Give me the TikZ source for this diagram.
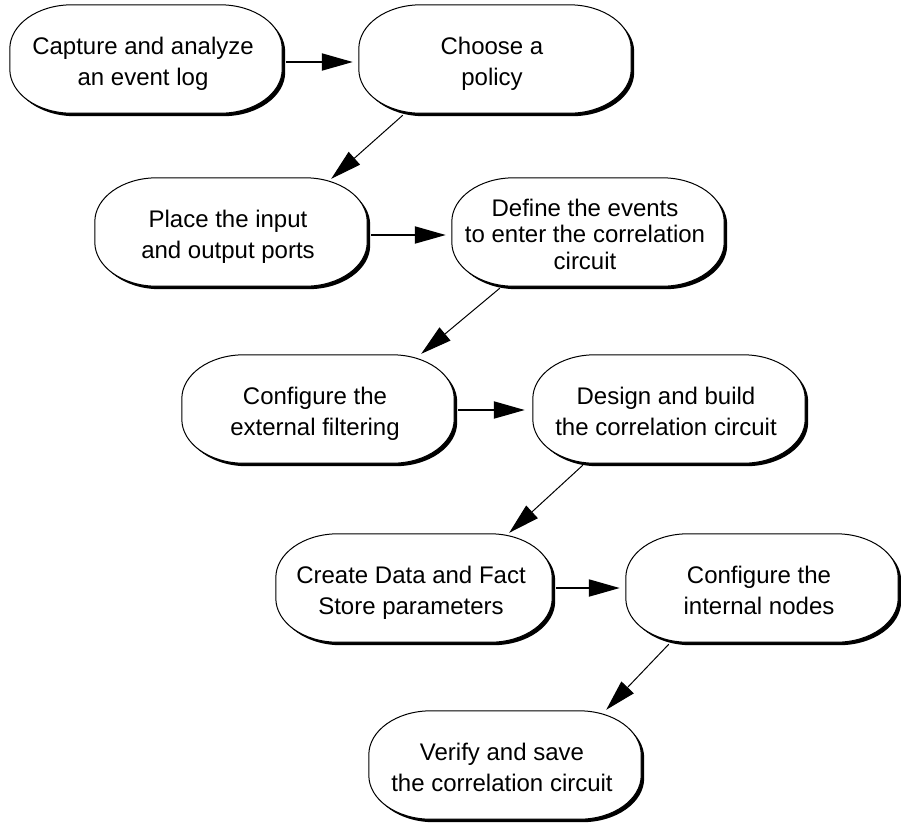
\documentclass[tikz,border=0pt]{standalone}
\usepackage{fontspec}
\setmainfont{Liberation Sans}
\usetikzlibrary{arrows.meta}

% Outline of a step box: a rectangle with elliptical corners, built on the anchors of node #1
\newcommand\pilloutline[1]{%
  ([xshift=62pt]#1.north west) -- ([xshift=-62pt]#1.north east)
  arc[start angle=90,end angle=0,x radius=62pt,y radius=44pt]
  -- ([yshift=44pt]#1.south east)
  arc[start angle=0,end angle=-90,x radius=62pt,y radius=44pt]
  -- ([xshift=62pt]#1.south west)
  arc[start angle=270,end angle=180,x radius=62pt,y radius=44pt]
  -- ([yshift=-44pt]#1.north west)
  arc[start angle=180,end angle=90,x radius=62pt,y radius=44pt] -- cycle}

\begin{document}
\begin{tikzpicture}[x=1pt,y=1pt,
  stepbox/.style={minimum width=272pt, minimum height=108pt, inner sep=0pt},
  steptext/.style={inner sep=0pt, align=center,
    font=\fontsize{24}{30.5}\selectfont,
    execute at begin node=\strut, execute at end node=\strut},
  boxshadow/.style={fill=black, transform canvas={shift={(3pt,-3pt)}}},
  boxface/.style={draw=black, fill=white, line width=1pt},
  flow/.style={-{Triangle[length=31pt,width=17pt]}, line width=2pt},
  slant/.style={-{Triangle[length=31pt,width=17pt]}, line width=1pt}]

\useasboundingbox (0,0) rectangle (901,-823);

% step positions (labels are set after the box outlines)
\path
  (146,-59)  node[stepbox] (n1) {}
  (495,-59)  node[stepbox] (n2) {}
  (231,-232) node[stepbox] (n3) {}
  (588,-232) node[stepbox] (n4) {}
  (318,-409) node[stepbox] (n5) {}
  (669,-409) node[stepbox] (n6) {}
  (414,-588) node[stepbox, minimum width=276pt] (n7) {}
  (762,-588) node[stepbox] (n8) {}
  (505,-765) node[stepbox] (n9) {};

\foreach \n in {n1,n2,n3,n4,n5,n6,n7,n8,n9}{
  \fill[boxshadow] \pilloutline{\n};
  \draw[boxface] \pilloutline{\n};
}

\node[steptext] (t1) at ([xshift=-3pt,yshift=-7pt]n1) {Capture and analyze\\an event log};
\node[steptext] (t2) at ([xshift=-3pt,yshift=-7pt]n2) {Choose a\\policy};
\node[steptext] (t3) at ([xshift=-3pt,yshift=-7pt]n3) {Place the input\\and output ports};
\node[steptext, font=\fontsize{24}{26.5}\selectfont] (t4) at ([xshift=-3pt,yshift=-6pt]n4)
  {Define the events\\to enter the correlation\\circuit};
\node[steptext] (t5) at ([xshift=-3pt,yshift=-7pt]n5) {Configure the\\external filtering};
\node[steptext] (t6) at ([xshift=-3pt,yshift=-7pt]n6) {Design and build\\the correlation circuit};
\node[steptext] (t7) at ([xshift=-3pt,yshift=-7pt]n7) {Create Data and Fact\\Store parameters};
\node[steptext] (t8) at ([xshift=-3pt,yshift=-7pt]n8) {Configure the\\internal nodes};
\node[steptext] (t9) at ([xshift=-3pt,yshift=-7pt]n9) {Verify and save\\the correlation circuit};

% horizontal links
\draw[flow] ([xshift=4pt,yshift=-3pt]n1.east) -- ([xshift=-6pt,yshift=-3pt]n2.west);
\draw[flow] ([xshift=4pt,yshift=-3pt]n3.east) -- ([xshift=-6pt,yshift=-3pt]n4.west);
\draw[flow] ([xshift=4pt,yshift=-1pt]n5.east) -- ([xshift=-8pt,yshift=-1pt]n6.west);
\draw[flow] ([xshift=4pt]n7.east) -- ([xshift=-6pt]n8.west);

% diagonal links to the next row
\draw[slant] ([xshift=44pt,yshift=-2pt]n2.south west) -- ([xshift=-36pt,yshift=-1pt]n3.north east);
\draw[slant] ([xshift=48pt,yshift=-2pt]n4.south west) -- ([xshift=-33pt,yshift=1pt]n5.north east);
\draw[slant] ([xshift=50pt,yshift=-2pt]n6.south west) -- ([xshift=-43pt,yshift=1pt]n7.north east);
\draw[slant] ([xshift=43pt,yshift=-2pt]n8.south west) -- ([xshift=-35pt,yshift=1pt]n9.north east);

\end{tikzpicture}
\end{document}
